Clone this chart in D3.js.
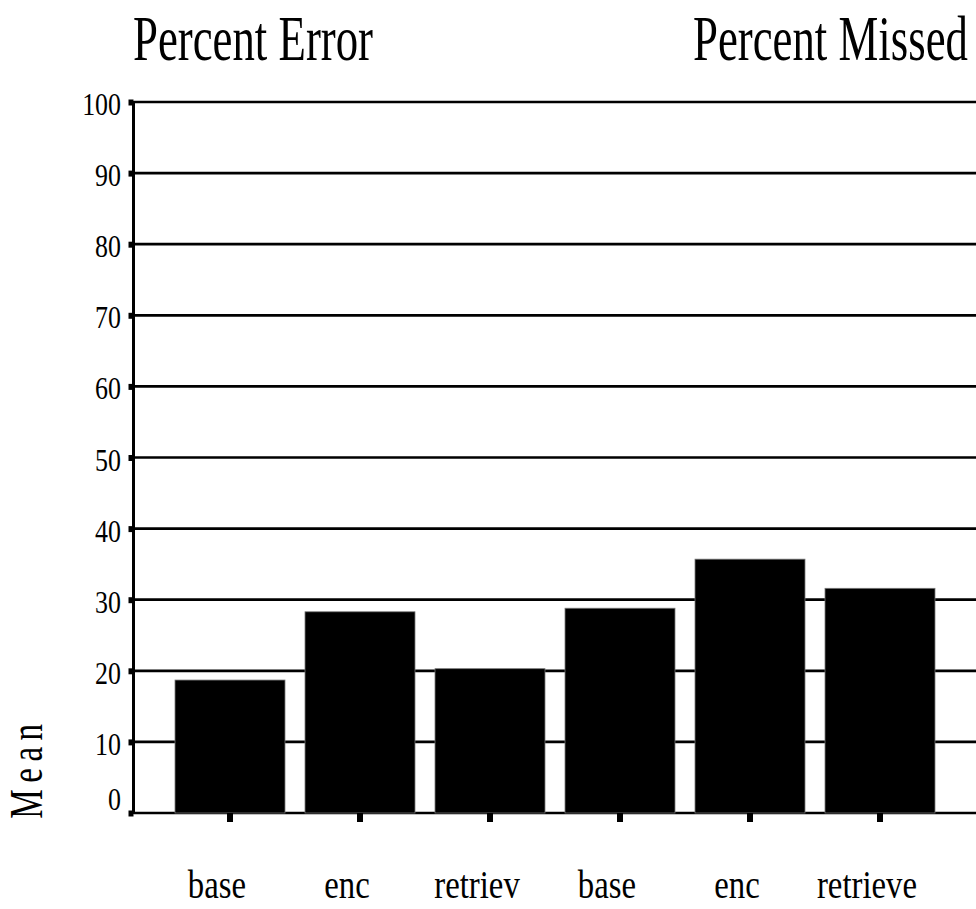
<!DOCTYPE html>
<html>
<head>
<meta charset="utf-8">
<script src="https://cdn.jsdelivr.net/npm/d3@7"></script>
<style>
  html, body { margin: 0; padding: 0; background: #fff; }
  svg { display: block; }
</style>
</head>
<body>
<svg class="chart" width="976" height="909"></svg>
<script>
// data
const groups = ["Percent Error", "Percent Missed"];
const categories = ["base", "enc", "retriev", "base", "enc", "retrieve"];
const values = [18.7, 28.3, 20.3, 28.8, 35.7, 31.6];
const yTicks = [0, 10, 20, 30, 40, 50, 60, 70, 80, 90, 100];

const serif = "'Liberation Serif', 'Times New Roman', Times, serif";

const svg = d3.select(".chart")
  .attr("font-family", serif);
const width = 976;

const axisX = 133.5;
const y = d3.scaleLinear().domain([0, 100]).range([813, 102]);

// index based band scale, labels repeat
const x = d3.scaleBand()
  .domain(d3.range(categories.length))
  .range([165, 945])
  .paddingInner(0.154)
  .paddingOuter(0.077);

// gridlines (the 0 line is the x axis)
svg.append("g")
  .selectAll("line")
  .data(yTicks)
  .join("line")
  .attr("x1", axisX)
  .attr("x2", width)
  .attr("y1", d => y(d))
  .attr("y2", d => y(d))
  .attr("stroke", "#000")
  .attr("stroke-width", 2.7);

// bars
svg.append("g")
  .selectAll("rect")
  .data(values)
  .join("rect")
  .attr("x", (d, i) => x(i))
  .attr("width", x.bandwidth())
  .attr("y", d => y(d))
  .attr("height", d => y(0) - y(d))
  .attr("fill", "#000")
  .attr("stroke", "#777")
  .attr("stroke-width", 0.8);

// y axis ticks: small black squares
const yAxis = svg.append("g")
  .attr("transform", `translate(${axisX},0)`)
  .call(d3.axisLeft(y).tickValues(yTicks).tickSize(5).tickFormat(""));
yAxis.select(".domain").remove();
yAxis.selectAll(".tick line").attr("stroke", "#000").attr("stroke-width", 6);

svg.append("line")
  .attr("x1", axisX).attr("x2", axisX)
  .attr("y1", y(0) + 1).attr("y2", y(100) - 1)
  .attr("stroke", "#000")
  .attr("stroke-width", 3);

// y tick labels (condensed serif)
svg.append("g")
  .selectAll("text")
  .data(yTicks)
  .join("text")
  .attr("font-family", serif)
  .attr("transform", d => `translate(121,${d === 0 ? y(d) - 3 : y(d) + 13}) scale(0.81,1)`)
  .attr("text-anchor", "end")
  .attr("font-size", 32)
  .text(d => d);

// x axis ticks
const xAxis = svg.append("g")
  .attr("transform", `translate(0,${y(0)})`)
  .call(d3.axisBottom(x).tickSize(9).tickFormat(""));
xAxis.select(".domain").remove();
xAxis.selectAll(".tick line").attr("stroke", "#000").attr("stroke-width", 6);

// category labels
svg.append("g")
  .selectAll("text")
  .data(categories)
  .join("text")
  .attr("font-family", serif)
  .attr("transform", (d, i) => `translate(${x(i) + x.bandwidth() / 2 - 13},898) scale(0.82,1)`)
  .attr("text-anchor", "middle")
  .attr("font-size", 40)
  .text(d => d);

// group titles
const titleX = [133, 693];
svg.append("g")
  .selectAll("text")
  .data(groups)
  .join("text")
  .attr("font-family", serif)
  .attr("transform", (d, i) => `translate(${titleX[i]},60) scale(0.7,1)`)
  .attr("font-size", 64)
  .text(d => d);

// y axis title
svg.append("text")
  .attr("font-family", serif)
  .attr("transform", "translate(42,768) rotate(-90) scale(0.72,1)")
  .attr("text-anchor", "middle")
  .attr("font-size", 46)
  .attr("letter-spacing", 9)
  .text("Mean");
</script>
</body>
</html>
